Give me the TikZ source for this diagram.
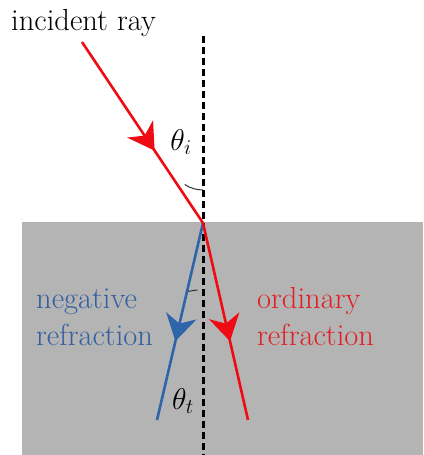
\documentclass[tikz,border=0pt]{standalone}
\usepackage{fix-cm}
\usepackage{fontspec}
\usetikzlibrary{arrows.meta,decorations.markings}
\definecolor{raygray}{RGB}{180,180,180}
\definecolor{rayred}{RGB}{240,10,20}
\definecolor{rayblue}{RGB}{45,100,170}
\definecolor{txtred}{RGB}{225,30,35}
\definecolor{txtblue}{RGB}{50,95,160}
\tikzset{
  ray/.style={line width=2.6pt},
  midarrow/.style={postaction={decorate,decoration={markings,
      mark=at position #1 with {\arrow{Stealth[length=26pt,width=31pt,inset=8pt]}}}}},
  normal/.style={black,line width=3pt,dash pattern=on 7pt off 4pt},
  lbl/.style={inner sep=0pt,font=\rmfamily\fontsize{30.5}{37}\selectfont,align=left},
  sym/.style={inner sep=0pt,font=\fontsize{30}{34}\selectfont},
  ang/.style={black!80,line width=1pt},
}
\begin{document}
\begin{tikzpicture}[x=1pt,y=-1pt]
\useasboundingbox (0,0) rectangle (423,455);
\fill[raygray] (22,222) rectangle (423,455);
\coordinate (O) at (203,223);
\coordinate (A) at (82,42);
\coordinate (B) at (157,420);
\coordinate (R) at (248,420);
\coordinate (N1) at (203,36);
\coordinate (N2) at (203,455);
\draw[normal] (N1) -- (N2);
\draw[ray,rayred,midarrow=0.6] (A) -- (O);
\draw[ray,rayblue,midarrow=0.6] (O) -- (B);
\draw[ray,rayred,midarrow=0.6] (O) -- (R);
\draw[ang] (203,190) arc[start angle=90,end angle=123.6,radius=33];
\draw[ang] (197.5,290) arc[start angle=-95,end angle=-103,radius=67];
\node[lbl,anchor=base west] (inc) at (11,30) {incident ray};
\node[lbl,anchor=base west,text=txtblue] (neg) at (36,345) {negative\\refraction};
\node[lbl,anchor=base west,text=txtred] (ord) at (257,345) {ordinary\\refraction};
\node[sym] (ti) at (181,142) {$\theta_i$};
\node[sym] (tt) at (183,401) {$\theta_t$};
\end{tikzpicture}
\end{document}
